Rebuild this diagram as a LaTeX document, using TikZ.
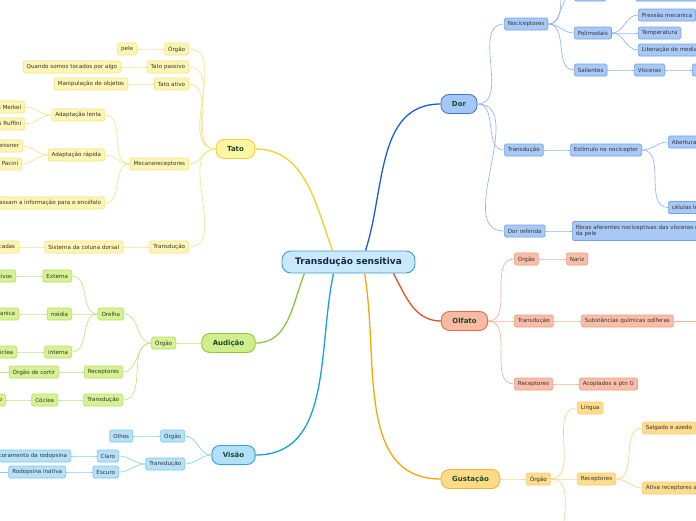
\documentclass[tikz,border=0pt]{standalone}
\usepackage{fontspec}
\setmainfont{DejaVu Sans}
\usetikzlibrary{calc}
\definecolor{inktext}{HTML}{343434}
\definecolor{titletext}{HTML}{14284B}
\definecolor{topictext}{HTML}{1B4A2C}
\definecolor{rootfill}{HTML}{C9E9FB}
\definecolor{rootdraw}{HTML}{3B9CDB}
% one set per branch: fill/draw of the topic, leaf/edge of the boxes, twig and trunk lines
\definecolor{tatofill}{HTML}{FFF5A5}\definecolor{tatodraw}{HTML}{EFD239}
\definecolor{tatoleaf}{HTML}{FFF6B3}\definecolor{tatoedge}{HTML}{F6E27F}
\definecolor{tatotwig}{HTML}{F6E38A}\definecolor{tatotrunk}{HTML}{F1D21F}
\definecolor{audifill}{HTML}{D0EF8C}\definecolor{audidraw}{HTML}{92C935}
\definecolor{audileaf}{HTML}{D6F292}\definecolor{audiedge}{HTML}{B9DF66}
\definecolor{auditwig}{HTML}{C4E47E}\definecolor{auditrunk}{HTML}{8BC53F}
\definecolor{visaofill}{HTML}{B1E0F8}\definecolor{visaodraw}{HTML}{2EA3E2}
\definecolor{visaoleaf}{HTML}{B5E2F8}\definecolor{visaoedge}{HTML}{7CC8EE}
\definecolor{visaotwig}{HTML}{8BCFF0}\definecolor{visaotrunk}{HTML}{17A0E4}
\definecolor{dorfill}{HTML}{A5C7F5}\definecolor{dordraw}{HTML}{3A7BD9}
\definecolor{dorleaf}{HTML}{A8C9F6}\definecolor{doredge}{HTML}{74A2E6}
\definecolor{dortwig}{HTML}{92B6EC}\definecolor{dortrunk}{HTML}{1B5ECF}
\definecolor{olffill}{HTML}{F8BAA2}\definecolor{olfdraw}{HTML}{EC6A45}
\definecolor{olfleaf}{HTML}{F9BEA7}\definecolor{olfedge}{HTML}{F19D80}
\definecolor{olftwig}{HTML}{F5AF96}\definecolor{olftrunk}{HTML}{EC4E26}
\definecolor{gusfill}{HTML}{FFDA87}\definecolor{gusdraw}{HTML}{F3B52E}
\definecolor{gusleaf}{HTML}{FFDC8E}\definecolor{gusedge}{HTML}{F7CC6A}
\definecolor{gustwig}{HTML}{F9D58C}\definecolor{gustrunk}{HTML}{F5A900}
\begin{document}
\begin{tikzpicture}[x=1pt,y=1pt,
  font=\fontsize{5.6}{6.6}\selectfont,
  root/.style={draw=rootdraw,fill=rootfill,line width=0.9pt,rounded corners=9pt,
    minimum width=133pt,minimum height=22pt,font=\fontsize{9}{10}\selectfont\bfseries,
    text=titletext},
  topic/.style={draw=#1draw,fill=#1fill,line width=0.9pt,rounded corners=8pt,
    minimum height=19pt,inner xsep=11pt,font=\fontsize{7}{8}\selectfont\bfseries,
    text=topictext},
  leaf/.style={draw=#1edge,fill=#1leaf,line width=0.7pt,rounded corners=1.5pt,
    minimum height=12pt,inner xsep=3.5pt,inner ysep=1pt,text=inktext},
  trunk/.style={draw=#1trunk,line width=1.3pt},
  twig/.style={draw=#1twig,line width=0.65pt}
]
  \useasboundingbox (0,0) rectangle (696,-520);
  \clip (0,0) rectangle (696,-520);
  \fill[white] (0,0) rectangle (696,-520);

  \node[root] (root) at (348.5,-262) {Transdução sensitiva};

  % Tato
  \node[topic=tato] (tato) at (235.5,-149) {Tato};
  \node[leaf=tato,anchor=east] (t-org) at (189,-49) {Órgão};
  \node[leaf=tato,anchor=east] (t-pele) at (137,-49) {pele};
  \node[leaf=tato,anchor=east] (t-pas) at (189,-67) {Tato passivo};
  \node[leaf=tato,anchor=east] (t-quando) at (121,-67) {Quando somos tocados por algo};
  \node[leaf=tato,anchor=east] (t-atv) at (189,-84) {Tato ativo};
  \node[leaf=tato,anchor=east] (t-manip) at (128,-84) {Manipulação de objetos};
  \node[leaf=tato,anchor=east] (t-mec) at (189,-164) {Mecanoreceptores};
  \node[leaf=tato,anchor=east] (t-lenta) at (105,-115) {Adaptação lenta};
  \node[leaf=tato,anchor=east] (t-merkel) at (25,-107) {Discos de Merkel};
  \node[leaf=tato,anchor=east] (t-ruffini) at (25,-124) {Corpúsculos Ruffini};
  \node[leaf=tato,anchor=east] (t-rapida) at (105,-155) {Adaptação rápida};
  \node[leaf=tato,anchor=east] (t-meissner) at (23,-146) {Corpúsculos de Meissner};
  \node[leaf=tato,anchor=east] (t-pacini) at (22,-164) {Corpúsculos de Pacini};
  \node[leaf=tato,anchor=east] (t-encef) at (105,-203) {Fibras passam a informação para o encéfalo};
  \node[leaf=tato,anchor=east] (t-tra) at (189,-247) {Transdução};
  \node[leaf=tato,anchor=east] (t-col) at (123,-247) {Sistema da coluna dorsal};
  \node[leaf=tato,anchor=east] (t-cad) at (19,-247) {Informações codificadas};

  % Audição
  \node[topic=audi] (audicao) at (228.5,-343) {Audição};
  \node[leaf=audi,anchor=east] (a-org) at (176,-343) {Órgão};
  \node[leaf=audi,anchor=east] (a-orelha) at (124,-314) {Orelha};
  \node[leaf=audi,anchor=east] (a-ext) at (72,-276) {Externa};
  \node[leaf=audi,anchor=east] (a-canais) at (16,-276) {Canais auditivos};
  \node[leaf=audi,anchor=east] (a-med) at (72,-314) {média};
  \node[leaf=audi,anchor=east] (a-vibra) at (19,-314) {Vibração mecanica};
  \node[leaf=audi,anchor=east] (a-int) at (72,-352) {interna};
  \node[leaf=audi,anchor=east] (a-coc) at (17,-352) {Cóclea};
  \node[leaf=audi,anchor=east] (a-rec) at (123,-372) {Receptores};
  \node[leaf=audi,anchor=east] (a-cortir) at (59,-372) {Órgão de cortir};
  \node[leaf=audi,anchor=east] (a-tra) at (123,-400) {Transdução};
  \node[leaf=audi,anchor=east] (a-coclea) at (58,-400) {Cóclea};
  \node[leaf=audi,anchor=east] (a-imp) at (6,-400) {Impulso nervoso};
  \coordinate (a-off) at (-12,-372);

  % Visão
  \node[topic=visao] (visao) at (233.5,-455) {Visão};
  \node[leaf=visao,anchor=east] (v-org) at (185,-436) {Órgão};
  \node[leaf=visao,anchor=east] (v-olhos) at (133,-436) {Olhos};
  \node[leaf=visao,anchor=east] (v-tra) at (185,-464) {Transdução};
  \node[leaf=visao,anchor=east] (v-claro) at (119,-456) {Claro};
  \node[leaf=visao,anchor=east] (v-desc) at (71,-456) {Descoramento da rodopsina};
  \node[leaf=visao,anchor=east] (v-escuro) at (119,-472) {Escuro};
  \node[leaf=visao,anchor=east] (v-rod) at (66,-472) {Rodopsina inativa};
  \coordinate (v-off) at (-12,-472);

  % Dor
  \node[topic=dor] (dor) at (459,-104) {Dor};
  \node[leaf=dor,anchor=west] (d-noc) at (504,-24) {Nociceptores};
  \node[leaf=dor,anchor=west] (d-term) at (574,5) {Térmicos};
  \node[leaf=dor,anchor=west] (d-calor) at (635,5) {Temperatura extrema};
  \coordinate (d-off) at (574,30);
  \node[leaf=dor,anchor=west] (d-poli) at (574,-33) {Polimodais};
  \node[leaf=dor,anchor=west] (d-pres) at (638,-15) {Pressão mecanica};
  \node[leaf=dor,anchor=west] (d-temp) at (638,-33) {Temperatura};
  \node[leaf=dor,anchor=west] (d-lib) at (638,-50) {Liberação de mediadores};
  \node[leaf=dor,anchor=west] (d-sal) at (574,-70) {Salientes};
  \node[leaf=dor,anchor=west] (d-visc) at (634,-70) {Vísceras};
  \node[leaf=dor,anchor=west] (d-visc2) at (692,-70) {Dor visceral};
  \node[leaf=dor,anchor=west] (d-tra) at (504,-150) {Transdução};
  \node[leaf=dor,anchor=west] (d-est) at (570,-150) {Estímulo no nociceptor};
  \node[leaf=dor,anchor=west] (d-abert) at (668,-142) {Abertura de canais iônicos};
  \node[leaf=dor,anchor=west] (d-cel) at (668,-207.5) {células lesionadas liberam substâncias};
  \node[leaf=dor,anchor=west] (d-ref) at (504,-231) {Dor referida};
  \node[leaf=dor,anchor=west,align=left,minimum height=19pt] (d-fib) at (572,-231)
    {fibras aferentes nociceptivas das vísceras e\\da pele};

  % Olfato
  \node[topic=olf] (olfato) at (464.5,-321) {Olfato};
  \node[leaf=olf,anchor=west] (o-org) at (514,-259) {Órgão};
  \node[leaf=olf,anchor=west] (o-nariz) at (566,-259) {Nariz};
  \node[leaf=olf,anchor=west] (o-tra) at (514,-321) {Transdução};
  \node[leaf=olf,anchor=west] (o-subs) at (581,-321) {Substâncias químicas odíferas};
  \node[leaf=olf,anchor=west] (o-rec) at (514,-384) {Receptores};
  \node[leaf=olf,anchor=west] (o-acop) at (579,-384) {Acoplados a ptn G};
  \coordinate (o-off) at (712,-321);

  % Gustação
  \node[topic=gus] (gustacao) at (470.5,-479) {Gustação};
  \node[leaf=gus,anchor=west] (g-org) at (526,-479) {Órgão};
  \node[leaf=gus,anchor=west] (g-lingua) at (577,-408) {Língua};
  \node[leaf=gus,anchor=west] (g-rec) at (577,-479) {Receptores};
  \node[leaf=gus,anchor=west] (g-sal) at (642,-428) {Salgado e azedo};
  \node[leaf=gus,anchor=west] (g-ativa) at (642,-488) {Ativa receptores acoplados à ptn G};
  \coordinate (g-off) at (577,-565);

  % trunks from the central topic
  \draw[trunk=tato] ($(root.north)+(-16,0)$) to[out=110,in=0] (tato.east);
  \draw[trunk=dor] ($(root.north)+(17,0)$) to[out=72,in=180] (dor.west);
  \draw[trunk=audi] ($(root.south)+(-44,0)$) to[out=-112,in=0] (audicao.east);
  \draw[trunk=visao] ($(root.south)+(-15,0)$) to[out=-102,in=0] (visao.east);
  \draw[trunk=gus] ($(root.south)+(16,0)$) to[out=-80,in=180] (gustacao.west);
  \draw[trunk=olf] ($(root.south)+(45,0)$) to[out=-62,in=180] (olfato.west);

  % left side twigs
  \foreach \p/\c in {tato/t-org,tato/t-pas,tato/t-atv,tato/t-mec,tato/t-tra,
      t-org/t-pele,t-pas/t-quando,t-atv/t-manip,t-mec/t-lenta,t-mec/t-rapida,
      t-mec/t-encef,t-lenta/t-merkel,t-lenta/t-ruffini,t-rapida/t-meissner,
      t-rapida/t-pacini,t-tra/t-col,t-col/t-cad}
    \draw[twig=tato] (\p.west) to[out=180,in=0] (\c.east);
  \foreach \p/\c in {audicao/a-org,a-org/a-orelha,a-org/a-rec,a-org/a-tra,
      a-orelha/a-ext,a-orelha/a-med,a-orelha/a-int,a-ext/a-canais,a-med/a-vibra,
      a-int/a-coc,a-rec/a-cortir,a-tra/a-coclea,a-coclea/a-imp}
    \draw[twig=audi] (\p.west) to[out=180,in=0] (\c.east);
  \draw[twig=audi] (a-cortir.west) -- (a-off);
  \foreach \p/\c in {visao/v-org,visao/v-tra,v-org/v-olhos,v-tra/v-claro,
      v-tra/v-escuro,v-claro/v-desc,v-escuro/v-rod}
    \draw[twig=visao] (\p.west) to[out=180,in=0] (\c.east);
  \draw[twig=visao] (v-rod.west) -- (v-off);

  % right side twigs
  \foreach \p/\c in {dor/d-noc,dor/d-tra,dor/d-ref,d-noc/d-term,d-noc/d-poli,
      d-noc/d-sal,d-term/d-calor,d-poli/d-pres,d-poli/d-temp,d-poli/d-lib,
      d-sal/d-visc,d-visc/d-visc2,d-tra/d-est,d-est/d-abert,d-est/d-cel,d-ref/d-fib}
    \draw[twig=dor] (\p.east) to[out=0,in=180] (\c.west);
  \draw[twig=dor] (d-noc.east) to[out=0,in=180] (d-off);
  \foreach \p/\c in {olfato/o-org,olfato/o-tra,olfato/o-rec,o-org/o-nariz,
      o-tra/o-subs,o-rec/o-acop}
    \draw[twig=olf] (\p.east) to[out=0,in=180] (\c.west);
  \draw[twig=olf] (o-subs.east) -- (o-off);
  \foreach \p/\c in {gustacao/g-org,g-org/g-lingua,g-org/g-rec,g-rec/g-sal,
      g-rec/g-ativa}
    \draw[twig=gus] (\p.east) to[out=0,in=180] (\c.west);
  \draw[twig=gus] (g-org.east) to[out=0,in=180] (g-off);
\end{tikzpicture}
\end{document}
